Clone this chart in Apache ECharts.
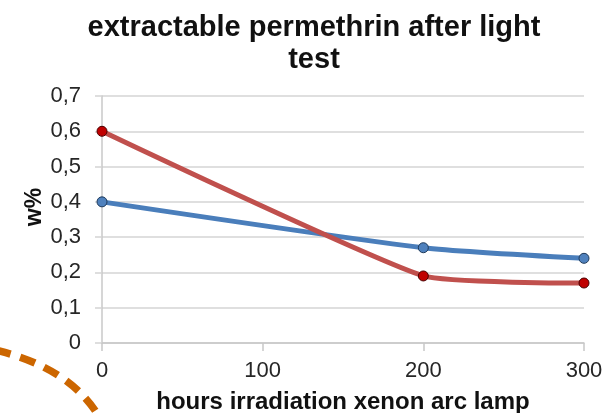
<!DOCTYPE html>
<html>
<head>
<meta charset="utf-8">
<script src="https://cdn.jsdelivr.net/npm/echarts@6/dist/echarts.min.js"></script>
<style>
html,body{margin:0;padding:0;background:#fff;}
#chart{width:609px;height:413px;}
</style>
</head>
<body>
<div id="chart"></div>
<script>
const titleText = 'extractable permethrin after light\ntest';
const xAxisName = 'hours irradiation xenon arc lamp';
const yAxisName = 'w%';
const hours = [0, 200, 300];
const seriesBlue = [0.40, 0.27, 0.24];
const seriesRed = [0.60, 0.19, 0.17];
const xTicks = [0, 100, 200, 300];
const yTicks = [0, 0.1, 0.2, 0.3, 0.4, 0.5, 0.6, 0.7];

const font = '"Liberation Sans", Arial, Helvetica, sans-serif';
const chart = echarts.init(document.getElementById('chart'), null, {renderer: 'canvas'});

function pairs(xs, ys) { return xs.map((x, i) => [x, ys[i]]); }

chart.setOption({
  animation: false,
  backgroundColor: '#ffffff',
  title: {
    text: titleText,
    left: 309,
    textAlign: 'center',
    top: 7,
    textStyle: {fontFamily: font, fontSize: 29, fontWeight: 'bold', color: '#111', lineHeight: 32, align: 'center'}
  },
  grid: {left: 102, right: 25, top: 96, bottom: 70, containLabel: false, outerBoundsMode: 'none'},
  xAxis: {
    type: 'value',
    min: xTicks[0], max: xTicks[xTicks.length - 1], interval: 100,
    name: xAxisName,
    nameLocation: 'middle',
    nameGap: 47,
    nameTextStyle: {fontFamily: font, fontSize: 24, fontWeight: 'bold', color: '#111'},
    axisLine: {show: true, lineStyle: {color: '#c8c8c8', width: 1.5}},
    axisTick: {show: true, length: 8, lineStyle: {color: '#c8c8c8', width: 1.5}},
    axisLabel: {fontFamily: font, fontSize: 22, color: '#262626', margin: 17},
    splitLine: {show: false}
  },
  yAxis: {
    type: 'value',
    min: yTicks[0], max: yTicks[yTicks.length - 1], interval: 0.1,
    axisLine: {show: true, lineStyle: {color: '#c8c8c8', width: 1.5}},
    axisTick: {show: true, length: 7, lineStyle: {color: '#d4d4d4', width: 1.5}},
    axisLabel: {fontFamily: font, fontSize: 22, color: '#262626', margin: 21,
      formatter: v => (Math.round(v * 10) / 10).toString().replace('.', ',')},
    splitLine: {show: true, lineStyle: {color: '#d4d4d4', width: 1.5}}
  },
  series: [
    {
      name: 'blue', type: 'line', smooth: 0.2,
      data: pairs(hours, seriesBlue),
      symbol: 'circle', symbolSize: 10,
      lineStyle: {color: '#4a7ebb', width: 5},
      itemStyle: {color: '#4f81bd', borderColor: '#1f3a5a', borderWidth: 1}
    },
    {
      name: 'red', type: 'line', smooth: 0.15,
      data: pairs(hours, seriesRed),
      symbol: 'circle', symbolSize: 10,
      lineStyle: {color: '#c0504d', width: 5},
      itemStyle: {color: '#c00000', borderColor: '#4a0000', borderWidth: 1}
    }
  ],
  graphic: [
    {
      type: 'text', x: 35, y: 207, rotation: Math.PI / 2,
      style: {text: yAxisName, font: 'bold 23px ' + font, fill: '#111', textAlign: 'center', textVerticalAlign: 'middle'}
    },
    {
      type: 'bezierCurve',
      shape: {x1: -5, y1: 350, cpx1: 72, cpy1: 368, x2: 101, y2: 420},
      style: {stroke: '#cc6600', lineWidth: 7.5, lineDash: [16, 10], fill: null, lineCap: 'butt'}
    }
  ]
});
</script>
</body>
</html>
